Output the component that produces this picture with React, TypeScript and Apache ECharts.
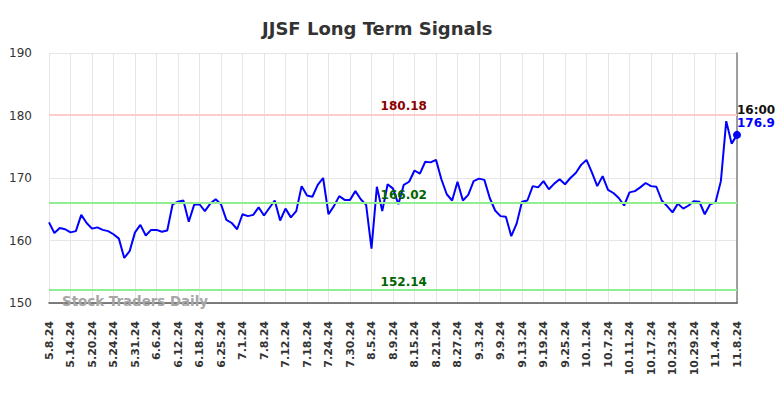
import React, { useEffect, useRef } from "react";
import * as echarts from "echarts";

const dates: string[] = [
  "5.8.24","5.9.24","5.10.24","5.13.24","5.14.24","5.15.24","5.16.24","5.17.24","5.20.24","5.21.24","5.22.24","5.23.24","5.24.24","5.28.24","5.29.24","5.30.24","5.31.24",
  "6.3.24","6.4.24","6.5.24","6.6.24","6.7.24","6.10.24","6.11.24","6.12.24","6.13.24","6.14.24","6.17.24","6.18.24","6.20.24","6.21.24","6.24.24","6.25.24","6.26.24","6.27.24","6.28.24",
  "7.1.24","7.2.24","7.3.24","7.5.24","7.8.24","7.9.24","7.10.24","7.11.24","7.12.24","7.15.24","7.16.24","7.17.24","7.18.24","7.19.24","7.22.24","7.23.24","7.24.24","7.25.24","7.26.24","7.29.24","7.30.24","7.31.24",
  "8.1.24","8.2.24","8.5.24","8.6.24","8.7.24","8.8.24","8.9.24","8.12.24","8.13.24","8.14.24","8.15.24","8.16.24","8.19.24","8.20.24","8.21.24","8.22.24","8.23.24","8.26.24","8.27.24","8.28.24","8.29.24","8.30.24",
  "9.3.24","9.4.24","9.5.24","9.6.24","9.9.24","9.10.24","9.11.24","9.12.24","9.13.24","9.16.24","9.17.24","9.18.24","9.19.24","9.20.24","9.23.24","9.24.24","9.25.24","9.26.24","9.27.24","9.30.24",
  "10.1.24","10.2.24","10.3.24","10.4.24","10.7.24","10.8.24","10.9.24","10.10.24","10.11.24","10.14.24","10.15.24","10.16.24","10.17.24","10.18.24","10.21.24","10.22.24","10.23.24","10.24.24","10.25.24","10.28.24","10.29.24","10.30.24","10.31.24",
  "11.1.24","11.4.24","11.5.24","11.6.24","11.7.24","11.8.24"
];

const prices: number[] = [
  162.9,161.2,162.0,161.8,161.3,161.5,164.1,162.8,161.9,162.1,161.7,161.5,161.0,160.3,157.2,158.3,161.3,
  162.5,160.8,161.7,161.7,161.4,161.6,165.8,166.2,166.4,163.0,165.7,165.8,164.7,165.9,166.6,165.8,163.3,162.8,161.8,
  164.2,163.9,164.1,165.3,164.0,165.2,166.4,163.2,165.1,163.7,164.7,168.7,167.2,167.0,168.9,170.0,164.2,165.5,167.1,166.5,166.5,167.9,
  166.6,165.7,158.7,168.6,164.7,169.0,168.3,165.8,168.9,169.4,171.2,170.7,172.6,172.5,172.9,169.8,167.4,166.4,169.4,166.4,167.3,169.5,
  169.9,169.7,166.8,164.8,163.9,163.8,160.7,162.7,166.2,166.4,168.7,168.5,169.5,168.2,169.1,169.8,169.0,170.0,170.8,172.1,
  172.9,170.9,168.7,170.3,168.1,167.6,166.8,165.6,167.7,167.9,168.5,169.2,168.7,168.6,166.4,165.5,164.5,165.9,165.1,165.6,166.3,166.2,164.2,
  165.8,166.1,169.5,179.1,175.5,176.9
];

const resistance = 180.18;
const midLine = 166.02;
const support = 152.14;
const lastTime = "16:00";
const title = "JJSF Long Term Signals";
const watermark = "Stock Traders Daily";

const FONT = "DejaVu Sans";

export default function App() {
  const ref = useRef<HTMLDivElement>(null);
  useEffect(() => {
    if (!ref.current) return;
    const chart = echarts.init(ref.current, undefined, { renderer: "svg" });
    const lastIdx = prices.length - 1;
    const lastVal = prices[lastIdx];
    const labelIdx = 66;
    const lineLabel = (val: number, color: string) => ({
      coord: [labelIdx, val],
      symbol: "circle",
      symbolSize: 0,
      label: {
        show: true,
        position: "inside",
        offset: [0, -8],
        formatter: String(val),
        color,
        fontWeight: "bold",
        fontSize: 12,
        fontFamily: FONT,
      },
    });
    chart.setOption({
      animation: false,
      textStyle: { fontFamily: FONT },
      title: {
        text: title,
        left: 257,
        top: 14,
        textStyle: { fontFamily: FONT, fontSize: 18, fontWeight: "bold", color: "#333" },
      },
      graphic: [
        {
          type: "text",
          left: 62,
          top: 295,
          z: 5,
          style: { text: watermark, fill: "#a6a6a6", font: `bold 13.4px ${FONT}` },
        },
      ],
      grid: { left: 49, right: 47, top: 53, bottom: 95, containLabel: false },
      xAxis: {
        type: "category",
        data: dates,
        boundaryGap: false,
        axisLine: { show: true, lineStyle: { color: "#555", width: 1.5 } },
        axisTick: { show: false },
        axisLabel: {
          interval: 3,
          rotate: 90,
          margin: 18,
          fontSize: 11,
          fontWeight: "bold",
          color: "#333",
          fontFamily: FONT,
        },
        splitLine: { show: true, interval: 3, lineStyle: { color: "#e6e6e6", width: 1 } },
      },
      yAxis: [
        {
          type: "value",
          min: 150,
          max: 190,
          interval: 10,
          position: "left",
          axisLine: { show: false },
          axisTick: { show: false },
          axisLabel: { margin: 17, fontSize: 12, color: "#333", fontFamily: FONT },
          splitLine: { show: true, lineStyle: { color: "#e6e6e6", width: 1 } },
        },
        {
          type: "value",
          min: 150,
          max: 190,
          interval: 10,
          position: "right",
          axisLine: { show: true, lineStyle: { color: "#808080", width: 1.5 } },
          axisTick: { show: false },
          axisLabel: { show: false },
          splitLine: { show: false },
        },
      ],
      series: [
        {
          type: "line",
          data: [],
          z: 1,
          silent: true,
          markLine: {
            silent: true,
            symbol: "none",
            label: { show: false },
            data: [
              { yAxis: resistance, lineStyle: { color: "#ffcccc", width: 2, type: "solid" } },
              { yAxis: midLine, lineStyle: { color: "#90ee90", width: 2, type: "solid" } },
              { yAxis: support, lineStyle: { color: "#90ee90", width: 2, type: "solid" } },
            ],
          },
          markPoint: {
            silent: true,
            data: [
              lineLabel(resistance, "#8b0000"),
              lineLabel(midLine, "#006400"),
              lineLabel(support, "#006400"),
            ],
          },
        },
        {
          type: "line",
          data: prices,
          z: 3,
          showSymbol: false,
          lineStyle: { color: "#0000ff", width: 2 },
          itemStyle: { color: "#0000ff" },
          markPoint: {
            silent: true,
            data: [
              {
                coord: [lastIdx, lastVal],
                symbol: "circle",
                symbolSize: 8,
                itemStyle: { color: "#0000ff" },
                label: {
                  show: true,
                  position: [4, -27],
                  align: "left",
                  verticalAlign: "top",
                  formatter: `{t|${lastTime}}\n{v|${lastVal}}`,
                  rich: {
                    t: { color: "#111", fontWeight: "bold", fontSize: 12, fontFamily: FONT, lineHeight: 13 },
                    v: { color: "#0000ff", fontWeight: "bold", fontSize: 12, fontFamily: FONT, lineHeight: 13 },
                  },
                },
              },
            ],
          },
        },
      ],
    });
    return () => chart.dispose();
  }, []);
  return <div ref={ref} style={{ width: 784, height: 398, position: "absolute", left: 0, top: 0 }} />;
}
